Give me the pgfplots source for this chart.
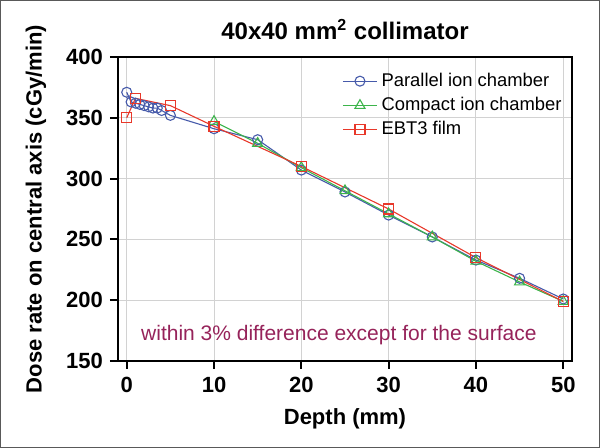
\documentclass[border=0pt]{standalone}
\usepackage{pgfplots}
\pgfplotsset{compat=1.18}
\usepackage{fontspec}
\setmainfont{Liberation Sans}
\definecolor{cblue}{RGB}{70,90,170}
\definecolor{cgreen}{RGB}{60,180,75}
\definecolor{cred}{RGB}{232,56,42}
\definecolor{cpurple}{RGB}{150,35,90}
\begin{document}
\begin{tikzpicture}
\path[use as bounding box] (-59pt,-43.5pt) rectangle (241pt,180.5pt);
\begin{axis}[
  at={(0,0)}, anchor=south west,
  scale only axis, width=227pt, height=152pt,
  xmin=-1, xmax=51, ymin=150, ymax=400,
  xtick={0,10,20,30,40,50}, ytick={150,200,250,300,350,400},
  tick pos=left, tick align=outside,
  major tick length=4pt,
  every tick/.style={black, line width=1pt},
  axis line style={line width=1pt},
  grid=major, grid style={gray!35, line width=0.5pt},
  /pgf/number format/assume math mode=true,
  ticklabel style={font=\bfseries\fontsize{11}{13}\selectfont},
  xticklabel style={yshift=-0.5pt},
  xlabel={Depth (mm)},
  ylabel={Dose rate on central axis (cGy/min)},
  label style={font=\bfseries\fontsize{11}{13}\selectfont},
  xlabel style={at={(axis description cs:0.5,0)}, anchor=center, yshift=-29pt},
  ylabel style={at={(axis description cs:0,0.5)}, anchor=center, yshift=41pt},
  title={40x40 mm\textsuperscript{2} collimator},
  title style={font=\bfseries\fontsize{12}{14}\selectfont, yshift=-1pt},
  legend style={draw=none, fill=none, at={(1.0,0.975)}, anchor=north east,
    font=\fontsize{9.2}{10.5}\selectfont, row sep=0pt},
  legend cell align=left,
]
\addplot[cblue, line width=0.55pt, mark=o, mark size=2.5pt] coordinates {
(0,371) (0.5,363) (1,362) (1.5,361) (2,360) (2.5,359) (3,358) (3.5,358) (4,356) (5,352)
(10,341) (15,332) (20,307) (25,289) (30,270) (35,252) (40,233) (45,218) (50,201)};
\addlegendentry{Parallel ion chamber}
\addplot[cgreen, line width=0.55pt, mark=triangle, mark size=2.9pt] coordinates {
(10,347) (15,329) (20,309) (25,290) (30,271) (35,252) (40,232) (45,215) (50,199)};
\addlegendentry{Compact ion chamber}
\addplot[cred, line width=0.55pt, mark=square, mark size=2.5pt] coordinates {
(0,350) (1,366) (5,360) (10,343) (20,310) (30,275) (40,235) (50,199)};
\addlegendentry{EBT3 film}
\node[text=cpurple, font=\fontsize{10.5}{12}\selectfont] at (axis cs:24.3,171) {within 3\% difference except for the surface};
\end{axis}
\draw[gray!70!black, line width=0.5pt] (-58.75pt,-43.25pt) rectangle (240.75pt,180.25pt);
\end{tikzpicture}
\end{document}
